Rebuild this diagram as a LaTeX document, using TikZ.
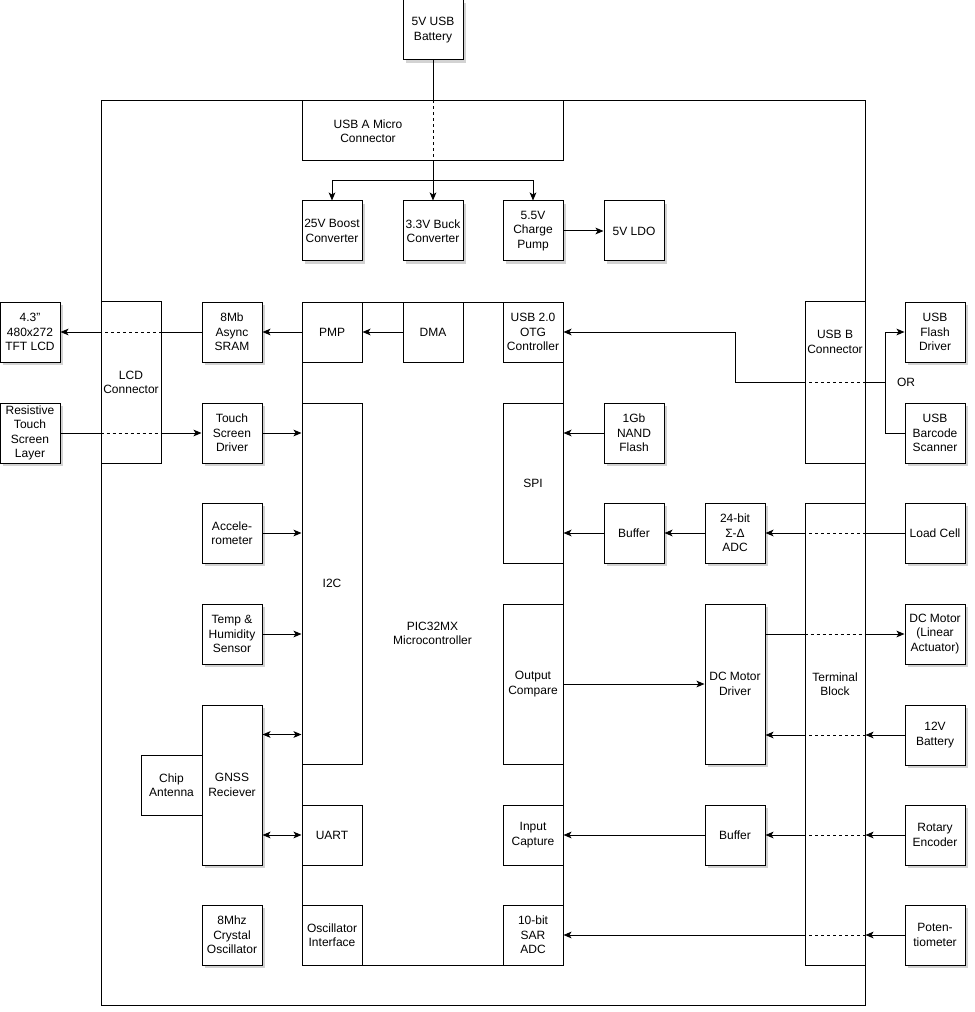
\documentclass[tikz,border=0pt]{standalone}
\usepackage{fontspec}
\setmainfont{Liberation Sans}
\usetikzlibrary{arrows.meta,shadows}
\tikzset{
  blk/.style={draw, line width=0.75pt, fill=white, align=center, inner sep=1pt,
    minimum width=45pt, minimum height=45pt, font=\fontsize{9}{10.9}\selectfont},
  shd/.style={blk, drop shadow={shadow xshift=2pt, shadow yshift=-2pt, opacity=0.35, fill=gray}},
  txt/.style={align=center, inner sep=0pt, font=\fontsize{9}{10.9}\selectfont},
  sig/.style={-{Stealth[length=6pt,width=5pt,inset=1.5pt]}, line width=0.75pt},
  bisig/.style={{Stealth[length=6pt,width=5pt,inset=1.5pt]}-{Stealth[length=6pt,width=5pt,inset=1.5pt]}, line width=0.75pt},
  wire/.style={line width=0.75pt},
  dwire/.style={line width=0.75pt, dash pattern=on 2.25pt off 2.25pt}
}
\begin{document}
\begin{tikzpicture}[x=0.75pt,y=-0.75pt]
  \useasboundingbox (0,0) rectangle (974,1012);
  % board and controller
  \node[blk, minimum width=573pt, minimum height=678pt] (board) at (483,553) {};
  \node[blk, minimum width=195.75pt, minimum height=497.25pt] (mcu) at (432.5,633.5) {PIC32MX\\Microcontroller};

  % power
  \node[shd] (bat) at (433,30) {5V USB\\Battery};
  \node[blk, minimum width=195.75pt] (usba) at (433,131) {};
  \node[txt] (usbatxt) at (368,131) {USB A Micro\\Connector};
  \node[shd] (boost) at (332,231) {25V Boost\\Converter};
  \node[shd] (buck) at (433,231) {3.3V Buck\\Converter};
  \node[shd] (pump) at (533,231) {5.5V\\Charge\\Pump};
  \node[shd] (ldo) at (634,231) {5V LDO};

  % left side
  \node[shd] (tft) at (30,332) {4.3"\\480x272\\TFT LCD};
  \node[shd] (touch) at (30,433) {Resistive\\Touch\\Screen\\Layer};
  \node[blk, minimum height=121pt] (lcdcon) at (131,382.5) {LCD\\Connector};
  \node[shd] (sram) at (232,332) {8Mb\\Async\\SRAM};
  \node[shd] (tsd) at (232,433) {Touch\\Screen\\Driver};
  \node[shd] (accel) at (232,533) {Accele-\\rometer};
  \node[shd] (temp) at (232,634) {Temp \&\\Humidity\\Sensor};
  \node[shd, minimum height=120pt] (gnss) at (232,785) {GNSS\\Reciever};
  \node[blk, minimum width=45.75pt] (ant) at (171.5,785) {Chip\\Antenna};
  \node[shd] (xtal) at (232,935) {8Mhz\\Crystal\\Oscillator};

  % controller peripherals
  \node[blk] (pmp) at (332,332) {PMP};
  \node[blk] (dma) at (433,332) {DMA};
  \node[blk] (otg) at (533,332) {USB 2.0\\OTG\\Controller};
  \node[blk, minimum height=270.75pt] (i2c) at (332,583.5) {I2C};
  \node[blk, minimum height=120pt] (spi) at (533,483) {SPI};
  \node[blk, minimum height=120pt] (oc) at (533,684) {Output\\Compare};
  \node[blk] (uart) at (332,835) {UART};
  \node[blk] (ic) at (533,835) {Input\\Capture};
  \node[blk] (osc) at (332,935) {Oscillator\\Interface};
  \node[blk] (sar) at (533,935) {10-bit\\SAR\\ADC};

  % right side
  \node[shd] (nand) at (634,433) {1Gb\\NAND\\Flash};
  \node[shd] (bufa) at (634,533) {Buffer};
  \node[shd] (adc) at (735,533) {24-bit\\Σ-Δ\\ADC};
  \node[shd, minimum height=120pt] (dcd) at (735,684) {DC Motor\\Driver};
  \node[shd] (bufb) at (735,835) {Buffer};
  \node[blk, minimum height=121pt] (usbb) at (835,382.5) {};
  \node[txt] (usbbtxt) at (835,342) {USB B\\Connector};
  \node[blk, minimum height=346.5pt] (tb) at (835,734) {};
  \node[txt] (tbtxt) at (835,684) {Terminal\\Block};
  \node[shd] (flash) at (935,332) {USB\\Flash\\Driver};
  \node[shd] (barcode) at (935,433) {USB\\Barcode\\Scanner};
  \node[txt] (ortxt) at (906,382) {OR};
  \node[shd] (load) at (935,533) {Load Cell};
  \node[shd] (motor) at (935,634) {DC Motor\\(Linear\\Actuator)};
  \node[shd] (batb) at (935,735) {12V\\Battery};
  \node[shd] (rot) at (935,835) {Rotary\\Encoder};
  \node[shd] (pot) at (935,935) {Poten-\\tiometer};

  % power wiring
  \coordinate (split) at (433,181);
  \draw[wire] (bat.south) -- (bat.south |- usba.north);
  \draw[dwire] (bat.south |- usba.north) -- (bat.south |- usba.south);
  \draw[sig] (bat.south |- usba.south) -- (buck.north);
  \draw[sig] (split) -| (boost.north);
  \draw[sig] (split) -| (pump.north);
  \draw[sig] (pump.east) -- (ldo.west);

  % display
  \draw[sig] (dma.west) -- (pmp.east);
  \draw[sig] (pmp.west) -- (sram.east);
  \draw[wire] (sram.west) -- (sram.west -| lcdcon.east);
  \draw[dwire] (sram.west -| lcdcon.east) -- (sram.west -| lcdcon.west);
  \draw[sig] (sram.west -| lcdcon.west) -- (tft.east);
  \draw[wire] (touch.east) -- (touch.east -| lcdcon.west);
  \draw[dwire] (touch.east -| lcdcon.west) -- (touch.east -| lcdcon.east);
  \draw[sig] (touch.east -| lcdcon.east) -- (tsd.west);
  \draw[sig] (tsd.east) -- (tsd.east -| i2c.west);

  % sensors
  \draw[sig] (accel.east) -- (accel.east -| i2c.west);
  \draw[sig] (temp.east) -- (temp.east -| i2c.west);
  \draw[bisig] ([yshift=-22.5pt]gnss.north east) -- ([yshift=-22.5pt]gnss.north east -| i2c.west);
  \draw[bisig] (gnss.east |- uart.west) -- (uart.west);

  % usb
  \coordinate (orj) at (885,382);
  \coordinate (bend) at (735,382);
  \draw[wire] (orj) -- (orj -| usbb.east);
  \draw[dwire] (orj -| usbb.east) -- (orj -| usbb.west);
  \draw[sig] (orj -| usbb.west) -- (bend) |- (otg.east);
  \draw[sig] (orj) |- (flash.west);
  \draw[wire] (orj) |- (barcode.west);

  % spi
  \draw[sig] (nand.west) -- (nand.west -| spi.east);
  \draw[sig] (bufa.west) -- (bufa.west -| spi.east);
  \draw[sig] (adc.west) -- (bufa.east);
  \draw[wire] (load.west) -- (load.west -| tb.east);
  \draw[dwire] (load.west -| tb.east) -- (load.west -| tb.west);
  \draw[sig] (load.west -| tb.west) -- (adc.east);

  % motor
  \draw[sig] (oc.east) -- (dcd.west);
  \draw[wire] (dcd.east |- motor.west) -- (tb.west |- motor.west);
  \draw[dwire] (tb.west |- motor.west) -- (tb.east |- motor.west);
  \draw[sig] (tb.east |- motor.west) -- (motor.west);
  \draw[sig] (batb.west) -- (tb.east |- batb.west);
  \draw[dwire] (tb.east |- batb.west) -- (tb.west |- batb.west);
  \draw[sig] (tb.west |- batb.west) -- (dcd.east |- batb.west);

  % encoder and pot
  \draw[sig] (rot.west) -- (tb.east |- rot.west);
  \draw[dwire] (tb.east |- rot.west) -- (tb.west |- rot.west);
  \draw[sig] (tb.west |- rot.west) -- (bufb.east);
  \draw[sig] (bufb.west) -- (ic.east);
  \draw[sig] (pot.west) -- (tb.east |- pot.west);
  \draw[dwire] (tb.east |- pot.west) -- (tb.west |- pot.west);
  \draw[sig] (tb.west |- pot.west) -- (sar.east);
\end{tikzpicture}
\end{document}
